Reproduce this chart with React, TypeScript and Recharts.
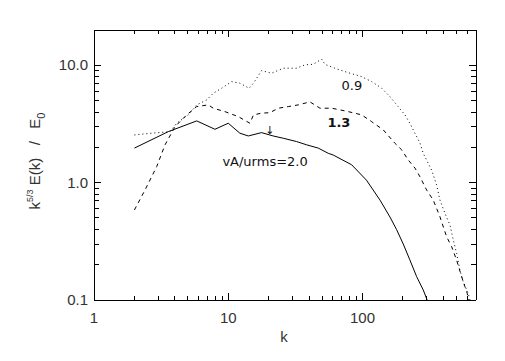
import { LineChart, Line, XAxis, YAxis, ReferenceDot, ReferenceLine } from "recharts";

// vA/urms = 0.9 (dotted)
const kDot = [2, 2.69, 3.68, 4.13, 5.04, 5.82, 6.91, 7.73, 8.93, 10.6, 12.2, 14.3, 15.4, 17.7, 21.0, 25.7, 32.3, 37.3, 42.9, 49.6, 52.5, 64.1, 80.6, 98.5, 117, 139, 160, 184, 207, 225, 268, 283, 327, 356, 377, 411, 448, 474, 502, 531, 562, 612, 640];
const eDot = [2.55, 2.64, 2.72, 3.21, 3.78, 4.6, 5.07, 5.78, 6.38, 7.26, 7.04, 6.38, 7.04, 9.01, 8.57, 9.45, 9.45, 10.1, 10.2, 11.3, 10.2, 9.32, 8.57, 8.01, 7.26, 6.38, 5.41, 4.45, 3.78, 3.21, 2.17, 1.78, 1.28, 0.956, 0.712, 0.548, 0.436, 0.325, 0.25, 0.18, 0.143, 0.114, 0.095];

// vA/urms = 1.3 (dashed)
const kDash = [2, 2.4, 2.93, 3.38, 4.01, 4.9, 5.82, 7.1, 7.73, 9.45, 11.9, 14.5, 15.4, 17.7, 20.4, 23.6, 28.0, 33.2, 40.6, 48.2, 58.9, 73.9, 87.8, 98.5, 117, 143, 174, 196, 219, 246, 268, 300, 336, 377, 423, 461, 502, 547, 579, 602, 620];
const eDash = [0.585, 0.867, 1.37, 2.1, 3.0, 3.78, 4.45, 4.6, 4.31, 4.03, 3.65, 3.21, 3.78, 3.91, 3.95, 4.31, 4.45, 4.6, 4.88, 4.31, 4.31, 4.09, 3.91, 3.78, 3.31, 2.81, 2.17, 1.9, 1.56, 1.33, 1.12, 0.867, 0.712, 0.513, 0.346, 0.285, 0.219, 0.158, 0.13, 0.114, 0.095];

// vA/urms = 2.0 (solid)
const kSolid = [2, 3.57, 5.82, 7.96, 10, 12.2, 14.1, 17.7, 21.6, 25.7, 32.3, 38.4, 46.8, 55.5, 60.5, 83, 107, 135, 160, 179, 201, 225, 253, 283, 300, 310];
const eSolid = [1.97, 2.72, 3.36, 2.85, 3.21, 2.64, 2.5, 2.67, 2.5, 2.39, 2.24, 2.1, 1.97, 1.78, 1.72, 1.42, 1.05, 0.71, 0.51, 0.4, 0.3, 0.22, 0.158, 0.122, 0.103, 0.09];

const xMajor = [1, 10, 100];
const xMinor = [2, 3, 4, 5, 6, 7, 8, 9, 20, 30, 40, 50, 60, 70, 80, 90, 200, 300, 400, 500, 600];
const xLabels = ["1", "10", "100"];
const yMajor = [0.1, 1, 10];
const yMinor = [0.2, 0.3, 0.4, 0.5, 0.6, 0.7, 0.8, 0.9, 2, 3, 4, 5, 6, 7, 8, 9, 20];
const yLabels = ["0.1", "1.0", "10.0"];

const noteText = ["0.9", "1.3", "vA/urms=2.0", "\u2193"];
const noteK = [83.4, 66.7, 18.8, 20.4];
const noteE = [6.81, 3.29, 1.53, 2.81];

const toPts = (ks: number[], es: number[]) => ks.map((k, i) => ({ k, e: es[i] }));

const X0 = 1;
const X1 = 700;
const Y0 = 0.1;
const Y1 = 20;
const tickFont = "'Liberation Sans', sans-serif";
const noteFont = "'DejaVu Sans', sans-serif";

// tick length in px -> ratio on the log axes (plot is ~382 x 270 px)
const pxPerDecX = 382 / Math.log10(X1 / X0);
const pxPerDecY = 270 / Math.log10(Y1 / Y0);
const fx = (px: number) => Math.pow(10, px / pxPerDecX);
const fy = (px: number) => Math.pow(10, px / pxPerDecY);

type Seg = [{ x: number; y: number }, { x: number; y: number }];
const tickSegs: Seg[] = [];
[...xMajor, ...xMinor].forEach((v) => {
  const len = xMajor.includes(v) ? 7 : 4;
  tickSegs.push([{ x: v, y: Y0 }, { x: v, y: Y0 * fy(len) }]);
  tickSegs.push([{ x: v, y: Y1 }, { x: v, y: Y1 / fy(len) }]);
});
[...yMajor, ...yMinor].forEach((v) => {
  const len = yMajor.includes(v) ? 7 : 5;
  tickSegs.push([{ x: X0, y: v }, { x: X0 * fx(len), y: v }]);
  tickSegs.push([{ x: X1, y: v }, { x: X1 / fx(len), y: v }]);
});

const BottomLabel = (props: any) => {
  const i = xMajor.indexOf(props.payload.value);
  return (
    <text x={props.x} y={props.y + 23} textAnchor="middle" fontSize={15} fontFamily={tickFont} fill="#333">
      {xLabels[i]}
    </text>
  );
};

const LeftLabel = (props: any) => {
  const i = yMajor.indexOf(props.payload.value);
  return (
    <text x={props.x - 6} y={props.y + 5} textAnchor="end" fontSize={15} fontFamily={tickFont} fill="#333">
      {yLabels[i]}
    </text>
  );
};

const YTitle = (props: any) => {
  const vb = props.viewBox;
  const cx = vb.x + 32;
  const cy = vb.y + vb.height / 2 - 4;
  return (
    <text
      x={cx}
      y={cy}
      transform={`rotate(-90 ${cx} ${cy})`}
      textAnchor="middle"
      fontSize={15}
      fontFamily={tickFont}
      fill="#333"
      style={{ whiteSpace: "pre" }}
    >
      k<tspan dy={-7} fontSize={9}>5/3</tspan>
      <tspan dy={7}> E(k)   /   E</tspan>
      <tspan dy={5} fontSize={11}>0</tspan>
    </text>
  );
};

const XTitle = (props: any) => {
  const vb = props.viewBox;
  return (
    <text x={vb.x + vb.width / 2 - 1} y={vb.y + 42} textAnchor="middle" fontSize={15} fontFamily={tickFont} fill="#333">
      k
    </text>
  );
};

const frame = { stroke: "#000", shapeRendering: "crispEdges" };

export default function App() {
  return (
    <LineChart width={490} height={345} margin={{ top: 21, right: 21, left: 0, bottom: 0 }}>
      <XAxis
        xAxisId="b"
        type="number"
        scale="log"
        dataKey="k"
        domain={[X0, X1]}
        allowDataOverflow
        ticks={xMajor}
        interval={0}
        height={53}
        tickSize={0}
        tickMargin={0}
        tickLine={false}
        axisLine={frame}
        tick={BottomLabel}
        label={<XTitle />}
      />
      <XAxis xAxisId="t" orientation="top" type="number" scale="log" domain={[X0, X1]} allowDataOverflow height={1} tickLine={false} axisLine={frame} tick={false} />
      <YAxis
        yAxisId="l"
        type="number"
        scale="log"
        dataKey="e"
        domain={[Y0, Y1]}
        allowDataOverflow
        ticks={yMajor}
        interval={0}
        width={86}
        tickSize={0}
        tickMargin={0}
        tickLine={false}
        axisLine={frame}
        tick={LeftLabel}
        label={<YTitle />}
      />
      <YAxis yAxisId="r" orientation="right" type="number" scale="log" domain={[Y0, Y1]} allowDataOverflow width={1} tickLine={false} axisLine={frame} tick={false} />
      {tickSegs.map((s, i) => (
        <ReferenceLine key={i} xAxisId="b" yAxisId="l" segment={s} stroke="#000" strokeWidth={1} shapeRendering="crispEdges" ifOverflow="visible" />
      ))}
      <Line xAxisId="b" yAxisId="l" data={toPts(kDot, eDot)} dataKey="e" stroke="#000" strokeWidth={1} strokeDasharray="1 3" dot={false} isAnimationActive={false} />
      <Line xAxisId="b" yAxisId="l" data={toPts(kDash, eDash)} dataKey="e" stroke="#000" strokeWidth={1} strokeDasharray="4 4" dot={false} isAnimationActive={false} />
      <Line xAxisId="b" yAxisId="l" data={toPts(kSolid, eSolid)} dataKey="e" stroke="#000" strokeWidth={1} dot={false} isAnimationActive={false} />
      {noteText.map((t, i) => (
        <ReferenceDot
          key={t}
          xAxisId="b"
          yAxisId="l"
          x={noteK[i]}
          y={noteE[i]}
          r={0}
          stroke="none"
          fill="none"
          label={{
            value: t,
            position: "center",
            fontSize: i === 3 ? 11 : 13,
            fontFamily: noteFont,
            fontWeight: i === 1 ? "bold" : "normal",
            fill: "#111",
          }}
        />
      ))}
    </LineChart>
  );
}
